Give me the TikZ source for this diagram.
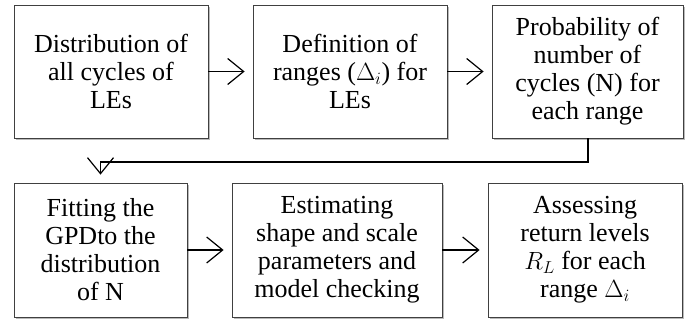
\documentclass[tikz,border=0pt]{standalone}
\usepackage{fontspec}
\setmainfont{Liberation Serif}
\usetikzlibrary{arrows.meta,shadows}
\begin{document}
\begin{tikzpicture}[x=1pt,y=1pt,
  box/.style={draw=black!75, line width=0.8pt, fill=white, align=center,
    inner sep=0pt, font=\fontsize{26}{28}\selectfont,
    drop shadow={shadow xshift=1.5pt, shadow yshift=-2pt, fill=black!45, opacity=0.6}},
  conn/.style={line width=1.3pt, -{Straight Barb[length=16pt,width=26pt,line width=1.2pt]}, shorten >=8pt}]
\useasboundingbox (0,0) rectangle (695,325);
\node[box, minimum width=194pt, minimum height=133pt] (b1) at (111,253.5) {Distribution of\\all cycles of\\LEs};
\node[box, minimum width=194pt, minimum height=133pt] (b2) at (350,253.5) {Definition of\\ranges ($\Delta_i$) for\\LEs};
\node[box, minimum width=191pt, minimum height=133pt] (b3) at (587.5,253.5) {Probability of\\number of\\cycles (N) for\\each range};
\node[box, minimum width=173pt, minimum height=134pt] (b4) at (100.5,75) {Fitting the\\GPDto the\\distribution\\of N};
\node[box, minimum width=210pt, minimum height=134pt] (b5) at (337,75) {Estimating\\shape and scale\\parameters and\\model checking};
\node[box, minimum width=194pt, minimum height=134pt] (b6) at (585,75) {Assessing\\return levels\\$R_L$ for each\\range $\Delta_i$};
\coordinate (c1) at (588,163);
\coordinate (c2) at (100.5,163);
\draw[conn] (b1) -- (b2);
\draw[conn] (b2) -- (b3);
\draw[conn] (b3.south -| c1) -- (c1) -- (c2) -- (b4.north);
\draw[conn] (b4) -- (b5);
\draw[conn] (b5) -- (b6);
\end{tikzpicture}
\end{document}
